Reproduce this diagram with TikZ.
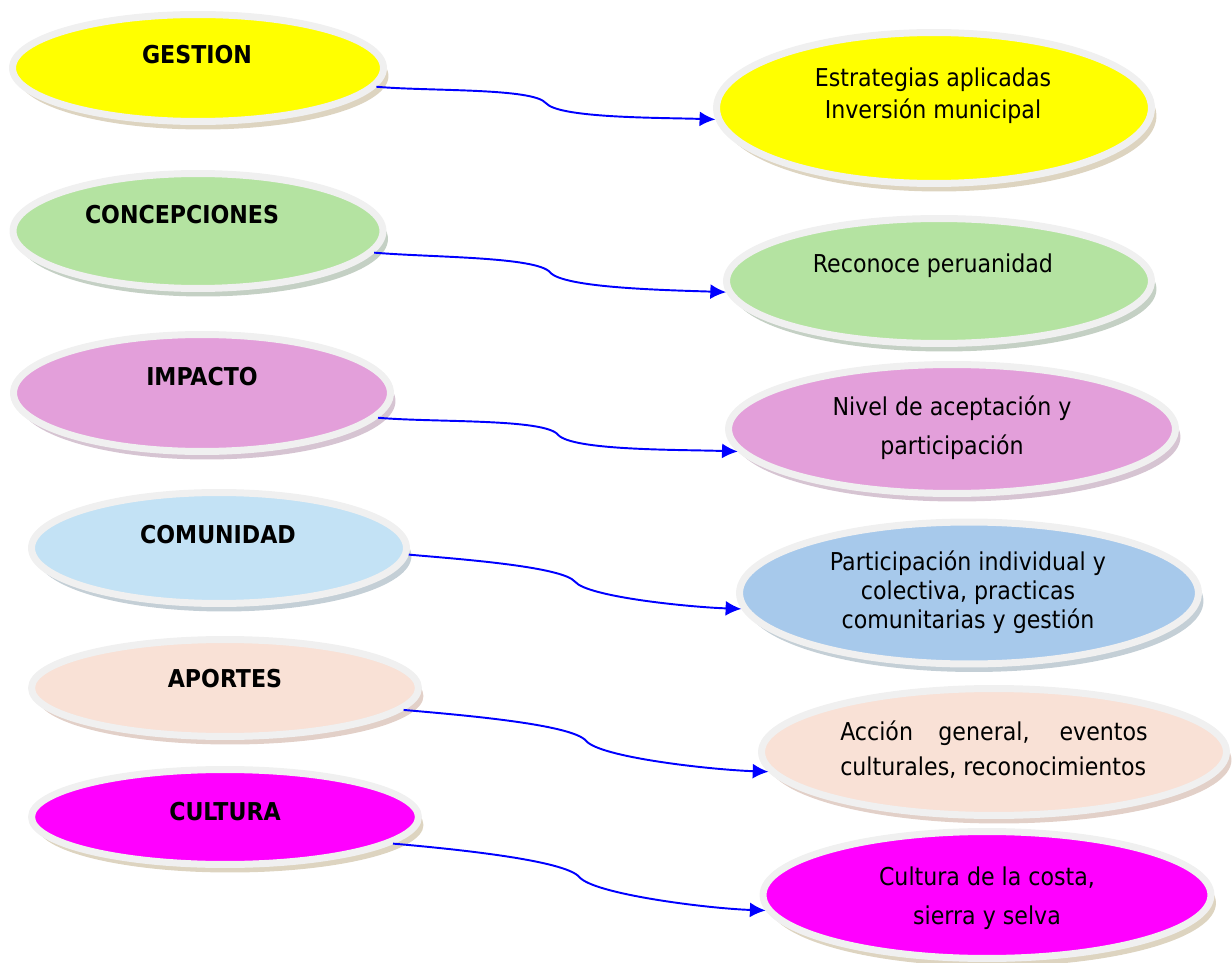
\documentclass[tikz,border=0pt]{standalone}
\usepackage{fontspec}
\setmainfont{DejaVu Sans Condensed}
\usetikzlibrary{arrows.meta,shapes.geometric,shadows,calc}
\definecolor{ringgray}{RGB}{240,240,240}
\definecolor{gestionyellow}{RGB}{255,255,0}
\definecolor{concepgreen}{RGB}{180,227,161}
\definecolor{impactpink}{RGB}{227,159,218}
\definecolor{comunblue}{RGB}{195,226,245}
\definecolor{partblue}{RGB}{167,201,235}
\definecolor{aportpeach}{RGB}{249,225,214}
\definecolor{culturamag}{RGB}{255,0,255}
\definecolor{tanshadow}{RGB}{221,212,192}
\definecolor{greenshadow}{RGB}{196,208,196}
\definecolor{pinkshadow}{RGB}{214,196,210}
\definecolor{blueshadow}{RGB}{196,207,214}
\definecolor{peachshadow}{RGB}{226,208,200}
\definecolor{linkblue}{RGB}{0,0,255}

\tikzset{
  oval/.style={ellipse, draw=ringgray, line width=0.14cm, inner sep=0pt},
  castshadow/.style={drop shadow={shadow xshift=0.1cm, shadow yshift=-0.16cm, fill=#1, opacity=1}},
  lefttxt/.style={font=\fontsize{14}{17}\selectfont\bfseries},
  righttxt/.style={align=center, font=\fontsize{14}{#1}\selectfont},
  righttxt/.default=18,
  link/.style={draw=linkblue, line width=1.1pt, -{Latex[length=9pt,width=8.5pt]}},
  halfin/.style={out=-5, in=130, out looseness=0.8, in looseness=0.3},
  halfout/.style={out=-50, in=178, out looseness=0.3, in looseness=0.8}
}

\begin{document}
\begin{tikzpicture}[x=0.02cm, y=-0.02cm]
  \useasboundingbox (0,0) rectangle (1232,963);
  % left column
  \node[oval, castshadow=tanshadow, fill=gestionyellow, minimum width=7.42cm, minimum height=2.14cm] (gestion) at (198,68) {};
  \node[lefttxt] (gestion-t) at (197,55) {GESTION};
  \node[oval, castshadow=greenshadow, fill=concepgreen, minimum width=7.40cm, minimum height=2.30cm] (concep) at (198,231) {};
  \node[lefttxt] (concep-t) at (182,215) {CONCEPCIONES};
  \node[oval, castshadow=pinkshadow, fill=impactpink, minimum width=7.54cm, minimum height=2.34cm] (impacto) at (202,393) {};
  \node[lefttxt] (impacto-t) at (202,377) {IMPACTO};
  \node[oval, castshadow=blueshadow, fill=comunblue, minimum width=7.50cm, minimum height=2.22cm] (comun) at (219,548) {};
  \node[lefttxt] (comun-t) at (218,535) {COMUNIDAD};
  \node[oval, castshadow=peachshadow, fill=aportpeach, minimum width=7.74cm, minimum height=1.94cm] (aportes) at (225,688) {};
  \node[lefttxt] (aportes-t) at (225,679) {APORTES};
  \node[oval, castshadow=tanshadow, fill=culturamag, minimum width=7.74cm, minimum height=1.90cm] (cultura) at (225,817) {};
  \node[lefttxt] (cultura-t) at (225,812) {CULTURA};
  % right column
  \node[oval, castshadow=tanshadow, fill=gestionyellow, minimum width=8.70cm, minimum height=3.02cm] (estrat) at (934,108) {};
  \node[righttxt] (estrat-t) at (933,96) {Estrategias aplicadas\\Inversión municipal};
  \node[oval, castshadow=greenshadow, fill=concepgreen, minimum width=8.50cm, minimum height=2.50cm] (recon) at (939,281) {};
  \node[righttxt] (recon-t) at (933,266) {Reconoce peruanidad};
  \node[oval, castshadow=pinkshadow, fill=impactpink, minimum width=8.94cm, minimum height=2.58cm] (nivel) at (952,429) {};
  \node[righttxt=22] (nivel-t) at (952,428) {Nivel de aceptación y\\participación};
  \node[oval, castshadow=blueshadow, fill=partblue, minimum width=9.18cm, minimum height=2.84cm] (partic) at (969,593) {};
  \node[righttxt=16.5] (partic-t) at (968,592) {Participación individual y\\colectiva, practicas\\comunitarias y gestión};
  \node[oval, castshadow=peachshadow, fill=aportpeach, minimum width=9.30cm, minimum height=2.54cm] (accion) at (994,752) {};
  \node[righttxt=20, align=justify, text width=6.15cm] (accion-t) at (994,750) {Acción general, eventos\linebreak culturales, reconocimientos};
  \node[oval, castshadow=tanshadow, fill=culturamag, minimum width=8.96cm, minimum height=2.54cm] (costa) at (987,895) {};
  \node[righttxt=22] (costa-t) at (987,898) {Cultura de la costa,\\sierra y selva};
  % connectors, each kinked at its middle
  \draw[link] (gestion.-6) to[halfin] ($(gestion.-6)!0.5!(estrat.183)$) to[halfout] (estrat.183);
  \draw[link] (concep.-7) to[halfin] ($(concep.-7)!0.5!(recon.183)$) to[halfout] (recon.183);
  \draw[link] (impacto.-8) to[halfin] ($(impacto.-8)!0.5!(nivel.186)$) to[halfout] (nivel.186);
  \draw[link] (comun.-2) to[halfin] ($(comun.-2)!0.5!(partic.184)$) to[halfout] (partic.184);
  \draw[link] (aportes.-7) to[halfin] ($(aportes.-7)!0.5!(accion.185)$) to[halfout] (accion.185);
  \draw[link] (cultura.-9) to[halfin] ($(cultura.-9)!0.5!(costa.184)$) to[halfout] (costa.184);
\end{tikzpicture}
\end{document}
